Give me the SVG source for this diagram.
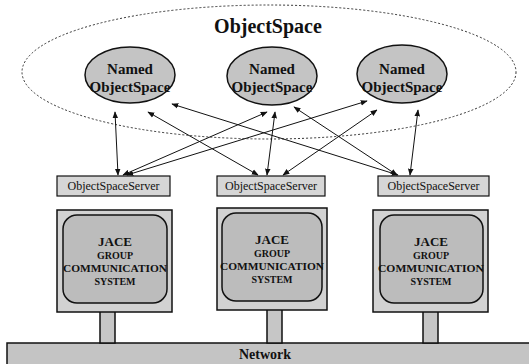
<svg xmlns="http://www.w3.org/2000/svg" width="529" height="364" viewBox="0 0 529 364">
<style>
.t{font-family:"Liberation Serif","Times New Roman",serif;fill:#111;text-anchor:middle}
.b{font-weight:bold}
.ns{fill:#c4c4c4;stroke:#111;stroke-width:1.5}
.srv{fill:#d6d6d6;stroke:#111;stroke-width:1.2}
.outer{fill:#d2d2d2;stroke:#111;stroke-width:1.5}
.inner{fill:#bcbcbc;stroke:#111;stroke-width:1.5}
.stem{fill:#c6c6c6;stroke:#111;stroke-width:1.5}
.c{stroke:#111;stroke-width:1;fill:none;marker-start:url(#ah);marker-end:url(#ah)}
</style>
<defs>
<marker id="ah" viewBox="0 0 10 10" refX="9" refY="5" markerWidth="7" markerHeight="7" orient="auto-start-reverse" markerUnits="userSpaceOnUse">
<path d="M0,1 L10,5 L0,9 Z" fill="#111"/>
</marker>
</defs>
<rect width="529" height="364" fill="#fff"/>
<g id="objectspace">
<ellipse cx="269" cy="72" rx="247" ry="67" fill="none" stroke="#333" stroke-width="1" stroke-dasharray="2,2"/>
<text class="t b" x="268" y="33" font-size="20">ObjectSpace</text>
</g>
<g id="nos1">
<ellipse class="ns" cx="130" cy="75" rx="45" ry="28"/>
<text class="t b" x="130" y="74" font-size="15">Named</text>
<text class="t b" x="130" y="92" font-size="15">ObjectSpace</text>
</g>
<g id="nos2">
<ellipse class="ns" cx="272" cy="76" rx="45" ry="29"/>
<text class="t b" x="272" y="74" font-size="15">Named</text>
<text class="t b" x="272" y="92" font-size="15">ObjectSpace</text>
</g>
<g id="nos3">
<ellipse class="ns" cx="402" cy="74" rx="45" ry="29"/>
<text class="t b" x="402" y="74" font-size="15">Named</text>
<text class="t b" x="402" y="92" font-size="15">ObjectSpace</text>
</g>
<g id="connectors">
<line class="c" x1="115" y1="112" x2="118" y2="175"/>
<line class="c" x1="148" y1="112" x2="258" y2="175"/>
<line class="c" x1="172" y1="104" x2="398" y2="175"/>
<line class="c" x1="267" y1="112" x2="123" y2="175"/>
<line class="c" x1="275" y1="112" x2="267" y2="175"/>
<line class="c" x1="294" y1="107" x2="397" y2="175"/>
<line class="c" x1="367" y1="101" x2="127" y2="175"/>
<line class="c" x1="377" y1="110" x2="283" y2="175"/>
<line class="c" x1="418" y1="110" x2="410" y2="175"/>
</g>
<g id="server1">
<rect class="srv" x="57" y="176" width="113" height="20"/>
<text class="t" x="113.5" y="190" font-size="12">ObjectSpaceServer</text>
</g>
<g id="server2">
<rect class="srv" x="217" y="176" width="108" height="20"/>
<text class="t" x="271" y="190" font-size="12">ObjectSpaceServer</text>
</g>
<g id="server3">
<rect class="srv" x="378" y="176" width="111" height="20"/>
<text class="t" x="433.5" y="190" font-size="12">ObjectSpaceServer</text>
</g>
<g id="network">
<rect x="7" y="343" width="524" height="24" fill="#c4c4c4" stroke="#111" stroke-width="1.5"/>
<text class="t b" x="265" y="359" font-size="14">Network</text>
</g>
<g id="jace1">
<rect class="stem" x="100" y="311" width="15" height="32"/>
<rect class="outer" x="57" y="210" width="115" height="102"/>
<rect class="inner" x="63" y="215" width="104" height="88" rx="14"/>
<text class="t b" x="115" y="246" font-size="13">JACE</text>
<text class="t b" x="115" y="259" font-size="10">GROUP</text>
<text class="t b" x="115" y="272" font-size="10" textLength="104" lengthAdjust="spacingAndGlyphs">COMMUNICATION</text>
<text class="t b" x="115" y="285" font-size="10">SYSTEM</text>
</g>
<g id="jace2">
<rect class="stem" x="267" y="309" width="15" height="34"/>
<rect class="outer" x="217" y="208" width="110" height="102"/>
<rect class="inner" x="222" y="213" width="100" height="88" rx="14"/>
<text class="t b" x="272" y="244" font-size="13">JACE</text>
<text class="t b" x="272" y="257" font-size="10">GROUP</text>
<text class="t b" x="272" y="270" font-size="10" textLength="104" lengthAdjust="spacingAndGlyphs">COMMUNICATION</text>
<text class="t b" x="272" y="283" font-size="10">SYSTEM</text>
</g>
<g id="jace3">
<rect class="stem" x="423" y="311" width="15" height="32"/>
<rect class="outer" x="373" y="210" width="115" height="102"/>
<rect class="inner" x="380" y="215" width="103" height="88" rx="14"/>
<text class="t b" x="431" y="246" font-size="13">JACE</text>
<text class="t b" x="431" y="259" font-size="10">GROUP</text>
<text class="t b" x="431" y="272" font-size="10" textLength="106" lengthAdjust="spacingAndGlyphs">COMMUNICATION</text>
<text class="t b" x="431" y="285" font-size="10">SYSTEM</text>
</g>
</svg>
